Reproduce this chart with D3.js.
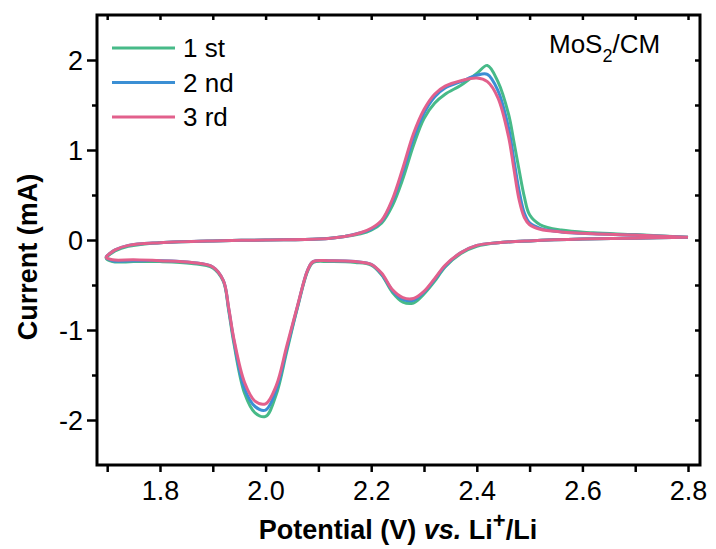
<!DOCTYPE html>
<html>
<head>
<meta charset="utf-8">
<script src="https://d3js.org/d3.v7.min.js"></script>
<style>
  body { margin: 0; background: #fff; }
  text { font-family: "Liberation Sans", Arial, sans-serif; fill: #000; }
</style>
</head>
<body>
<div id="chart"></div>
<script>
// potential (V) for the cathodic (reduction) sweep, 2.8 -> 1.7
const cathodicV = [2.80, 2.70, 2.60, 2.50, 2.44, 2.40, 2.37, 2.34, 2.32, 2.30, 2.28, 2.26, 2.24, 2.22, 2.20, 2.17, 2.12, 2.09, 2.08, 2.06, 2.04, 2.02, 2.00, 1.98, 1.96, 1.94, 1.93, 1.92, 1.90, 1.86, 1.80, 1.75, 1.71];
// potential (V) for the anodic (oxidation) sweep, 1.7 -> 2.8
const anodicV = [1.698, 1.705, 1.715, 1.74, 1.80, 1.90, 2.00, 2.10, 2.15, 2.18, 2.20, 2.22, 2.24, 2.26, 2.28, 2.30, 2.32, 2.34, 2.37, 2.40, 2.42, 2.44, 2.46, 2.47, 2.48, 2.49, 2.50, 2.52, 2.56, 2.62, 2.70, 2.80];

// current (mA), cycle 1
const cath1 = [0.03, 0.02, 0.01, -0.01, -0.03, -0.07, -0.15, -0.30, -0.46, -0.60, -0.70, -0.69, -0.58, -0.39, -0.28, -0.25, -0.24, -0.25, -0.34, -0.76, -1.24, -1.72, -1.96, -1.92, -1.70, -1.15, -0.78, -0.46, -0.31, -0.26, -0.24, -0.24, -0.24];
const anod1 = [-0.20, -0.16, -0.12, -0.07, -0.03, -0.01, 0.00, 0.01, 0.04, 0.07, 0.11, 0.19, 0.38, 0.68, 1.05, 1.35, 1.52, 1.62, 1.72, 1.85, 1.94, 1.76, 1.40, 1.10, 0.78, 0.48, 0.28, 0.17, 0.11, 0.08, 0.06, 0.03];
// cycle 2
const cath2 = [0.03, 0.02, 0.01, -0.01, -0.03, -0.06, -0.14, -0.29, -0.44, -0.58, -0.67, -0.66, -0.56, -0.38, -0.27, -0.24, -0.23, -0.24, -0.33, -0.75, -1.21, -1.67, -1.89, -1.85, -1.65, -1.12, -0.76, -0.45, -0.30, -0.25, -0.23, -0.23, -0.23];
const anod2 = [-0.19, -0.15, -0.11, -0.06, -0.03, -0.01, 0.00, 0.01, 0.04, 0.08, 0.12, 0.21, 0.43, 0.76, 1.13, 1.41, 1.59, 1.69, 1.76, 1.83, 1.84, 1.66, 1.25, 0.90, 0.55, 0.30, 0.19, 0.13, 0.09, 0.07, 0.055, 0.03];
// cycle 3
const cath3 = [0.03, 0.02, 0.01, -0.01, -0.03, -0.06, -0.14, -0.28, -0.43, -0.57, -0.65, -0.64, -0.55, -0.37, -0.27, -0.24, -0.23, -0.24, -0.33, -0.74, -1.18, -1.62, -1.82, -1.79, -1.58, -1.10, -0.75, -0.45, -0.30, -0.25, -0.23, -0.22, -0.22];
const anod3 = [-0.19, -0.15, -0.11, -0.06, -0.03, -0.01, 0.00, 0.01, 0.04, 0.08, 0.13, 0.22, 0.45, 0.80, 1.18, 1.45, 1.62, 1.71, 1.77, 1.80, 1.76, 1.58, 1.15, 0.80, 0.45, 0.25, 0.17, 0.12, 0.09, 0.07, 0.055, 0.03];

const cycleNames = ["1 st", "2 nd", "3 rd"];
const cycleColors = ["#47ba88", "#3b8fd4", "#e2608c"];
const xTicks = [1.8, 2.0, 2.2, 2.4, 2.6, 2.8];
const yTicks = [-2, -1, 0, 1, 2];

const W = 716, H = 549;
const mLeft = 97, mRight = 700, mTop = 15, mBottom = 465;

const svg = d3.select("#chart").append("svg")
  .attr("width", W).attr("height", H);

const x = d3.scaleLinear().domain([1.6807, 2.8227]).range([mLeft, mRight]);
const y = d3.scaleLinear().domain([-2.5, 2.5]).range([mBottom, mTop]);

const cycles = [[cath1, anod1], [cath2, anod2], [cath3, anod3]].map(function(c) {
  const pts = cathodicV.map(function(v, i) { return [v, c[0][i]]; });
  return pts.concat(anodicV.map(function(v, i) { return [v, c[1][i]]; }));
});

const line = d3.line()
  .x(function(d) { return x(d[0]); })
  .y(function(d) { return y(d[1]); })
  .curve(d3.curveCatmullRom.alpha(0.5));

svg.append("g").selectAll("path")
  .data(cycles)
  .join("path")
  .attr("d", line)
  .attr("fill", "none")
  .attr("stroke", function(d, i) { return cycleColors[i]; })
  .attr("stroke-width", 3)
  .attr("stroke-linejoin", "round");

// axes
const minorX = d3.range(1.7, 2.85, 0.1);
const minorY = d3.range(-2.5, 2.55, 0.5);

const xAxis = svg.append("g").attr("transform", `translate(0,${mBottom})`)
  .call(d3.axisBottom(x).tickValues(minorX).tickSize(7).tickFormat(""));
const xLab = svg.append("g").attr("transform", `translate(0,${mBottom})`)
  .call(d3.axisBottom(x).tickValues(xTicks).tickSize(0).tickFormat(d3.format(".1f")));

const yAxis = svg.append("g").attr("transform", `translate(${mLeft},0)`)
  .call(d3.axisLeft(y).tickValues(minorY.filter(function(v) { return v % 1 !== 0 && Math.abs(v) < 2.5; })).tickSize(5).tickFormat(""));
const yMaj = svg.append("g").attr("transform", `translate(${mLeft},0)`)
  .call(d3.axisLeft(y).tickValues(yTicks).tickSize(10).tickPadding(4).tickFormat(function(d) { return String(d); }));

const topAxis = svg.append("g").attr("transform", `translate(0,${mTop})`)
  .call(d3.axisBottom(x).tickValues(minorX).tickSize(5).tickFormat(""));
const rightAxis = svg.append("g").attr("transform", `translate(${mRight},0)`)
  .call(d3.axisLeft(y).tickValues(minorY.filter(function(v) { return Math.abs(v) < 2.5; })).tickSize(5).tickFormat(""));

svg.selectAll(".domain").remove();
svg.selectAll(".tick line").attr("stroke", "#000").attr("stroke-width", 2.5);
svg.selectAll(".tick text")
  .style("font-family", "'Liberation Sans', Arial, sans-serif")
  .style("font-size", "27px").attr("fill", "#000");
xLab.selectAll(".tick text").attr("dy", 0).attr("y", 35);
yMaj.selectAll(".tick text").attr("dy", "0.36em");

svg.append("rect")
  .attr("x", mLeft).attr("y", mTop)
  .attr("width", mRight - mLeft).attr("height", mBottom - mTop)
  .attr("fill", "none").attr("stroke", "#000").attr("stroke-width", 3);

// legend
const legend = svg.append("g");
cycleNames.forEach(function(name, i) {
  const ly = 48 + i * 34.5;
  legend.append("line")
    .attr("x1", 112).attr("x2", 175).attr("y1", ly).attr("y2", ly)
    .attr("stroke", cycleColors[i]).attr("stroke-width", 3);
  legend.append("text")
    .attr("x", 183).attr("y", ly + 9)
    .style("font-size", "26px")
    .text(name);
});

// sample label
const lab = svg.append("text").attr("x", 549).attr("y", 53).style("font-size", "26px");
lab.append("tspan").text("MoS");
lab.append("tspan").attr("dy", 9).style("font-size", "18px").text("2");
lab.append("tspan").attr("dy", -9).text("/CM");

// axis titles
const xt = svg.append("text")
  .attr("x", 398).attr("y", 539)
  .attr("text-anchor", "middle")
  .style("font-size", "27px").style("font-weight", "bold");
xt.append("tspan").text("Potential (V) ");
xt.append("tspan").style("font-style", "italic").text("vs.");
xt.append("tspan").text(" Li");
xt.append("tspan").attr("dy", -11).style("font-size", "22px").text("+");
xt.append("tspan").attr("dy", 11).text("/Li");

svg.append("text")
  .attr("transform", "translate(37,257) rotate(-90)")
  .attr("text-anchor", "middle")
  .style("font-size", "27px").style("font-weight", "bold")
  .text("Current (mA)");
</script>
</body>
</html>
